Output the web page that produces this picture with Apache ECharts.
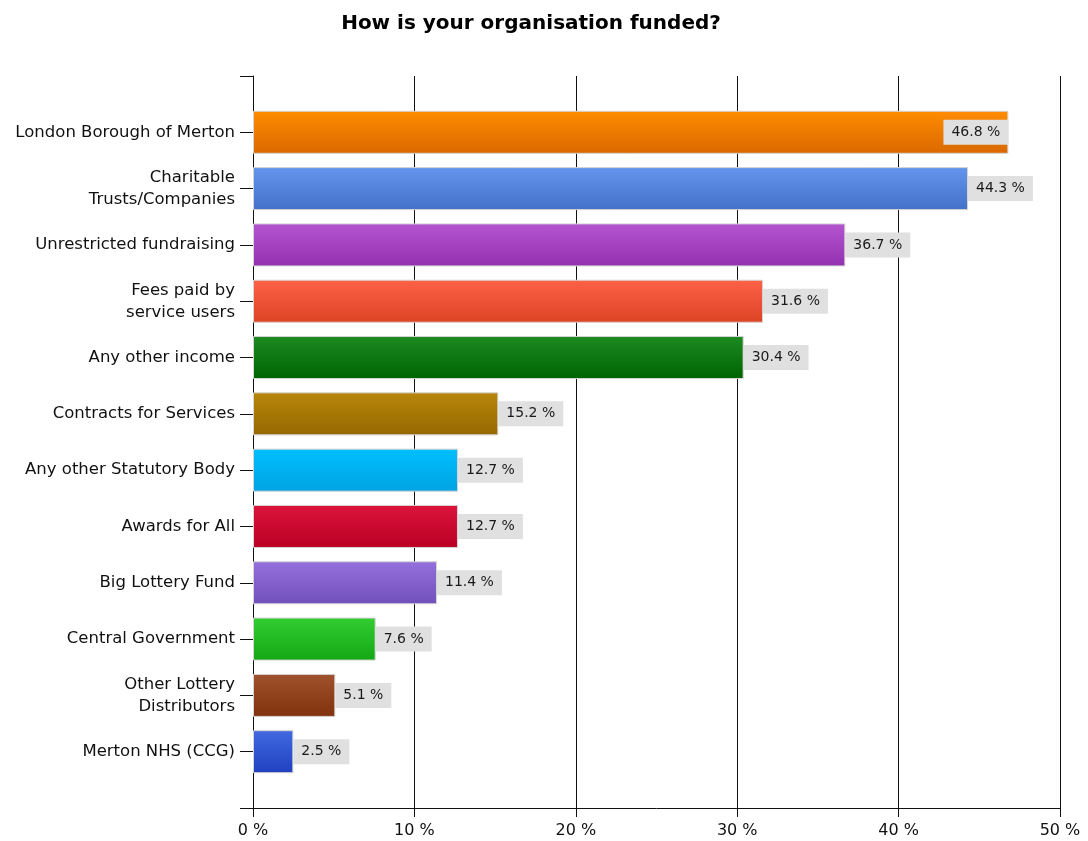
<!DOCTYPE html>
<html>
<head>
<meta charset="utf-8">
<script src="https://cdn.jsdelivr.net/npm/echarts@6/dist/echarts.min.js"></script>
<style>
html,body{margin:0;padding:0;background:#fff;}
#chart{width:1088px;height:841px;}
</style>
</head>
<body>
<div id="chart"></div>
<script>
const categories = [
  'London Borough of Merton',
  'Charitable\nTrusts/Companies',
  'Unrestricted fundraising',
  'Fees paid by\nservice users',
  'Any other income',
  'Contracts for Services',
  'Any other Statutory Body',
  'Awards for All',
  'Big Lottery Fund',
  'Central Government',
  'Other Lottery\nDistributors',
  'Merton NHS (CCG)'
];
const values = [46.8, 44.3, 36.7, 31.6, 30.4, 15.2, 12.7, 12.7, 11.4, 7.6, 5.1, 2.5];
const xTicks = [0, 10, 20, 30, 40, 50];

const topColors = ['#ff8c00','#6495ed','#b455d0','#fd6246','#1c8a22','#b8860b','#00bfff','#dc143c','#9370db','#32cd32','#a0522d','#4169e1'];
const bottomColors = ['#da6800','#4470c8','#9430b0','#dc4224','#006400','#966800','#00a2e2','#ba0024','#7250bb','#14a814','#80320d','#2040c0'];

const chart = echarts.init(document.getElementById('chart'));
const FONT = 'DejaVu Sans';

const axisCats = [''].concat(categories, ['']);
const barData = ['-'].concat(values.map((v, i) => ({
  value: v,
  itemStyle: {
    color: new echarts.graphic.LinearGradient(0, 0, 0, 1, [
      {offset: 0, color: topColors[i]},
      {offset: 1, color: bottomColors[i]}
    ])
  },
  label: i === 0 ? {position: 'insideRight'} : {}
})), ['-']);

chart.setOption({
  animation: false,
  backgroundColor: '#fff',
  title: {
    text: 'How is your organisation funded?',
    left: 526,
    textAlign: 'center',
    top: 9,
    textStyle: {fontFamily: FONT, fontWeight: 'bold', fontSize: 20, color: '#000'}
  },
  grid: {left: 253, right: 28, top: 76, bottom: 33, containLabel: false},
  xAxis: {
    type: 'value',
    min: xTicks[0],
    max: xTicks[xTicks.length - 1],
    interval: 10,
    axisLine: {show: true, lineStyle: {color: '#111', width: 1}},
    axisTick: {show: true, length: 9, lineStyle: {color: '#111', width: 1}},
    splitLine: {show: true, lineStyle: {color: '#111', width: 1}},
    axisLabel: {
      formatter: v => v + ' %',
      fontFamily: FONT, fontSize: 16, color: '#111', margin: 15
    }
  },
  yAxis: {
    type: 'category',
    data: axisCats,
    inverse: true,
    boundaryGap: false,
    axisLine: {show: true, lineStyle: {color: '#111', width: 1}},
    axisTick: {show: true, length: 13, alignWithLabel: true, interval: 0, lineStyle: {color: '#111', width: 1}},
    splitLine: {show: false},
    axisLabel: {
      interval: 0,
      fontFamily: FONT, fontSize: 16.5, color: '#111', margin: 18, lineHeight: 22, align: 'right'
    }
  },
  series: [{
    type: 'bar',
    data: barData,
    barWidth: 43,
    itemStyle: {borderColor: '#d4d4d4', borderWidth: 1},
    label: {
      show: true,
      position: 'right',
      distance: 0,
      formatter: p => p.value.toFixed(1) + ' %',
      backgroundColor: '#e0e0e0',
      padding: [6, 8, 5, 8],
      fontFamily: FONT,
      fontSize: 14,
      color: '#1a1a1a'
    }
  }]
});
</script>
</body>
</html>
